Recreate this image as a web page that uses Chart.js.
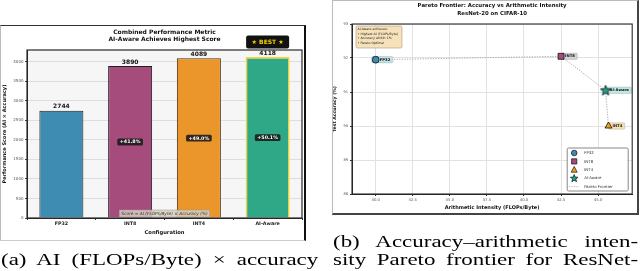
<!DOCTYPE html>
<html>
<head>
<meta charset="utf-8">
<script src="https://cdn.jsdelivr.net/npm/chart.js@4.4.1/dist/chart.umd.min.js"></script>
<style>
body { margin: 0; width: 640px; height: 271px; overflow: hidden; background: #fff; position: relative; }
canvas { position: absolute; }
#chartA { left: 0; top: 25px; }
#chartB { left: 332px; top: 0; }
.frame { position: absolute; pointer-events: none; box-sizing: border-box; }
#frameA { left: 0; top: 25px; width: 306px; height: 216px; border-top: 1px solid #333; border-right: 2px solid #111; border-left: 1px solid #bbb; border-bottom: 1px solid #ccc; }
#frameB { left: 332px; top: 0; width: 307px; height: 215px; border: 1px solid #bbb; border-right: 2px solid #444; border-bottom: 2px solid #444; }
/* the captions in the picture are stretched sideways */
.cap { position: absolute; font-family: "Liberation Serif", serif; font-size: 17px; line-height: 19px; white-space: nowrap; text-align: justify; text-align-last: justify; color: #000; transform: scaleX(1.35); transform-origin: 0 0; }
#capA { left: 1px; top: 250px; width: 235px; }
#capB1 { left: 333px; top: 232px; width: 226px; }
#capB2 { left: 333px; top: 250px; width: 226px; }
</style>
</head>
<body>
<canvas id="chartA" width="306" height="216"></canvas>
<canvas id="chartB" width="306" height="214"></canvas>
<div class="frame" id="frameA"></div>
<div class="frame" id="frameB"></div>
<div class="cap" id="capA">(a) AI (FLOPs/Byte) × accuracy</div>
<div class="cap" id="capB1">(b) Accuracy–arithmetic inten-</div>
<div class="cap" id="capB2">sity Pareto frontier for ResNet-</div>

<script>
// Left chart data
const configs = ['FP32', 'INT8', 'INT4', 'AI-Aware'];
const scores = [2744, 3890, 4089, 4118];
const gainLabels = ['', '+41.8%', '+49.0%', '+50.1%'];
const scoreTicks = [0, 500, 1000, 1500, 2000, 2500, 3000, 3500, 4000];

// Right chart data
const arithIntensity = [30.0, 42.5, 45.7, 45.5];
const testAccuracy = [91.95, 92.05, 90.0, 91.05];
const paretoOrder = ['FP32', 'INT8', 'AI-Aware', 'INT4'];
const intensityTicks = [30.0, 32.5, 35.0, 37.5, 40.0, 42.5, 45.0];
const accuracyTicks = [88, 89, 90, 91, 92, 93];
const infoLines = ['AI-Aware achieves:', '• Highest AI (FLOPs/Byte)', '• Accuracy within 1%', '• Pareto Optimal'];

const FONT = '"DejaVu Sans", sans-serif';
const barColors = ['#3f8cb3', '#a64c7c', '#ea962b', '#2fa887'];
const barBorders = ['#1e1e1e', '#1e1e1e', '#4a3210', '#f3d23a'];
const pointColors = ['#3f8cb3', '#a64c7c', '#f0a020', '#1f9e8a'];
const labelBoxes = ['#bfe3e6', '#d3d3d3', '#f5deb3', '#bfe8e2'];

function roundBox(ctx, x, y, w, h, r) {
    ctx.beginPath();
    ctx.moveTo(x + r, y);
    ctx.arcTo(x + w, y, x + w, y + h, r);
    ctx.arcTo(x + w, y + h, x, y + h, r);
    ctx.arcTo(x, y + h, x, y, r);
    ctx.arcTo(x, y, x + w, y, r);
    ctx.closePath();
}

function starPath(ctx, cx, cy, outer, inner) {
    ctx.beginPath();
    for (let k = 0; k < 10; k++) {
        const r = k % 2 === 0 ? outer : inner;
        const a = -Math.PI / 2 + k * Math.PI / 5;
        const px = cx + r * Math.cos(a), py = cy + r * Math.sin(a);
        if (k === 0) ctx.moveTo(px, py); else ctx.lineTo(px, py);
    }
    ctx.closePath();
}

// star marker as a small canvas
function makeStar(color) {
    const c = document.createElement('canvas');
    c.width = 12; c.height = 12;
    const g = c.getContext('2d');
    starPath(g, 6, 6.4, 5.4, 2.3);
    g.fillStyle = color; g.fill();
    g.lineWidth = 0.8; g.strokeStyle = '#111'; g.stroke();
    return c;
}
const starImg = makeStar(pointColors[3]);

// ---------- Chart A: bars ----------
const barExtras = {
    id: 'barExtras',
    beforeDraw(chart) {
        const { ctx, chartArea: a } = chart;
        ctx.save();
        ctx.fillStyle = '#f6f6f6';
        ctx.fillRect(a.left, a.top, a.right - a.left, a.bottom - a.top);
        ctx.restore();
    },
    afterDatasetsDraw(chart) {
        const { ctx, chartArea: a, scales } = chart;
        const meta = chart.getDatasetMeta(0);
        ctx.save();
        meta.data.forEach((bar, i) => {
            ctx.fillStyle = '#111';
            ctx.font = 'bold 6px ' + FONT;
            ctx.textAlign = 'center';
            ctx.textBaseline = 'bottom';
            ctx.fillText(String(scores[i]), bar.x, bar.y - 1);
            if (gainLabels[i]) {
                const ym = scales.y.getPixelForValue(scores[i] / 2);
                ctx.font = 'bold 4.8px ' + FONT;
                const w = ctx.measureText(gainLabels[i]).width + 5;
                ctx.fillStyle = 'rgba(25,25,25,0.88)';
                roundBox(ctx, bar.x - w / 2, ym - 3.4, w, 6.8, 1.5);
                ctx.fill();
                ctx.fillStyle = '#fff';
                ctx.textBaseline = 'middle';
                ctx.fillText(gainLabels[i], bar.x, ym + 0.2);
            }
        });
        // BEST badge over the top bar
        const best = meta.data[3];
        ctx.fillStyle = '#111';
        roundBox(ctx, best.x - 21.5, best.y - 21.5, 43, 13, 2);
        ctx.fill();
        ctx.fillStyle = '#f5d000';
        ctx.font = 'bold 6px ' + FONT;
        ctx.textAlign = 'center';
        ctx.textBaseline = 'middle';
        ctx.fillText('★ BEST ★', best.x, best.y - 14.8);
        // formula box
        const cx = (a.left + a.right) / 2;
        ctx.font = 'italic 4.3px ' + FONT;
        const ft = 'Score = AI (FLOPs/Byte) × Accuracy (%)';
        const fw = ctx.measureText(ft).width + 4;
        ctx.fillStyle = 'rgba(214,206,190,0.85)';
        ctx.fillRect(cx - fw / 2, a.bottom - 8, fw, 7);
        ctx.strokeStyle = '#999'; ctx.lineWidth = 0.5;
        ctx.strokeRect(cx - fw / 2, a.bottom - 8, fw, 7);
        ctx.fillStyle = '#333';
        ctx.fillText(ft, cx, a.bottom - 4.4);
        // frame
        ctx.strokeStyle = '#2a2a2a'; ctx.lineWidth = 1.2;
        ctx.strokeRect(a.left, a.top, a.right - a.left, a.bottom - a.top);
        ctx.restore();
    },
    afterDraw(chart) {
        const { ctx, chartArea: a } = chart;
        const cx = (a.left + a.right) / 2;
        ctx.save();
        ctx.fillStyle = '#111';
        ctx.font = 'bold 6px ' + FONT;
        ctx.textAlign = 'center';
        ctx.textBaseline = 'middle';
        ctx.fillText('Combined Performance Metric', cx, 7);
        ctx.fillText('AI-Aware Achieves Highest Score', cx, 14.2);
        ctx.restore();
    }
};

new Chart(document.getElementById('chartA'), {
    type: 'bar',
    data: {
        labels: configs,
        datasets: [{
            data: scores,
            backgroundColor: barColors,
            borderColor: barBorders,
            borderWidth: [1, 1, 1, 1.6],
            barPercentage: 0.64,
            categoryPercentage: 1
        }]
    },
    options: {
        responsive: false,
        animation: false,
        layout: { padding: { left: 0, top: 25, right: 4, bottom: 0 } },
        plugins: { legend: { display: false }, tooltip: { enabled: false } },
        scales: {
            x: {
                grid: { color: 'rgba(0,0,0,0)', tickColor: '#333', tickLength: 2 },
                border: { color: '#222', width: 1 },
                ticks: { color: '#222', font: { family: FONT, size: 4.8, weight: 'bold' }, padding: 1 },
                title: { display: true, text: 'Configuration', color: '#111',
                         font: { family: FONT, size: 5.2, weight: 'bold' }, padding: { top: 0, bottom: 5 } },
                afterFit(s) { s.height = 23; }
            },
            y: {
                min: 0, max: 4300,
                afterBuildTicks(s) { s.ticks = scoreTicks.map(v => ({ value: v })); },
                grid: { color: '#dedede', tickColor: '#444', tickLength: 2 },
                border: { color: '#222', width: 1 },
                ticks: { color: '#555', font: { family: FONT, size: 4 }, padding: 1.5,
                         callback: v => String(v) },
                title: { display: true, text: 'Performance Score (AI × Accuracy)', color: '#111',
                         font: { family: FONT, size: 5, weight: 'bold' }, padding: { top: 2, bottom: 0 } },
                afterFit(s) { s.width = 27; }
            }
        }
    },
    plugins: [barExtras]
});

// ---------- Chart B: Pareto scatter ----------
const pointStyles = ['circle', 'rect', 'triangle', starImg];
const pointRadii = [3.4, 4.2, 4, 5];
const paretoData = paretoOrder.map(name => {
    const i = configs.indexOf(name);
    return { x: arithIntensity[i], y: testAccuracy[i] };
});
const scatterSets = configs.map((c, i) => ({
    type: 'scatter',
    label: c,
    data: [{ x: arithIntensity[i], y: testAccuracy[i] }],
    pointStyle: pointStyles[i],
    pointRadius: pointRadii[i],
    backgroundColor: pointColors[i],
    borderColor: '#111',
    borderWidth: 0.8
}));
const lineIndex = scatterSets.length;

function drawMarker(ctx, i, x, y) {
    ctx.save();
    ctx.fillStyle = pointColors[i];
    ctx.strokeStyle = '#111';
    ctx.lineWidth = 0.7;
    if (i === 0) { ctx.beginPath(); ctx.arc(x, y, 2.8, 0, Math.PI * 2); }
    else if (i === 1) { ctx.beginPath(); ctx.rect(x - 2.6, y - 2.6, 5.2, 5.2); }
    else if (i === 2) { ctx.beginPath(); ctx.moveTo(x, y - 3.3); ctx.lineTo(x + 3, y + 2.4); ctx.lineTo(x - 3, y + 2.4); ctx.closePath(); }
    else { starPath(ctx, x, y + 0.3, 4, 1.7); }
    ctx.fill(); ctx.stroke();
    ctx.restore();
}

const paretoExtras = {
    id: 'paretoExtras',
    afterDatasetDraw(chart, args) {
        if (args.index !== lineIndex) return;
        // point labels, under the markers
        const { ctx, scales } = chart;
        ctx.save();
        ctx.font = 'bold 3.8px ' + FONT;
        ctx.textBaseline = 'middle';
        ctx.textAlign = 'left';
        configs.forEach((c, i) => {
            const px = scales.x.getPixelForValue(arithIntensity[i]);
            const py = scales.y.getPixelForValue(testAccuracy[i]);
            const tw = ctx.measureText(c).width;
            const x0 = px - (i === 0 ? 4 : 0);
            ctx.fillStyle = labelBoxes[i];
            ctx.strokeStyle = 'rgba(120,120,120,0.6)';
            ctx.lineWidth = 0.4;
            roundBox(ctx, x0, py - 3.2, px + 4 + tw + 2.5 - x0, 6.4, 1.2);
            ctx.fill(); ctx.stroke();
            ctx.fillStyle = '#111';
            ctx.fillText(c, px + 4, py + 0.1);
        });
        ctx.restore();
    },
    afterDraw(chart) {
        const { ctx, chartArea: a } = chart;
        ctx.save();
        // frame
        ctx.strokeStyle = '#2a2a2a'; ctx.lineWidth = 1.1;
        ctx.strokeRect(a.left, a.top, a.right - a.left, a.bottom - a.top);
        // titles
        const cx = (a.left + a.right) / 2;
        ctx.fillStyle = '#111';
        ctx.font = 'bold 5.4px ' + FONT;
        ctx.textAlign = 'center';
        ctx.textBaseline = 'middle';
        ctx.fillText('Pareto Frontier: Accuracy vs Arithmetic Intensity', cx, 6);
        ctx.fillText('ResNet-20 on CIFAR-10', cx, 13.5);
        // info box top-left
        ctx.font = '3.2px ' + FONT;
        ctx.textAlign = 'left';
        const bx = a.left + 4, by = a.top + 2;
        ctx.fillStyle = 'rgba(245,222,179,0.9)';
        ctx.strokeStyle = '#9a8a6a'; ctx.lineWidth = 0.5;
        roundBox(ctx, bx, by, 46, 22, 1.5);
        ctx.fill(); ctx.stroke();
        ctx.fillStyle = '#222';
        infoLines.forEach((t, k) => ctx.fillText(t, bx + 1.5, by + 3.2 + k * 4.7));
        // legend bottom-right
        const lw = 61, lh = 43;
        const lx = a.right - 4 - lw, ly = a.bottom - 3 - lh;
        ctx.fillStyle = 'rgba(255,255,255,0.92)';
        ctx.strokeStyle = '#555'; ctx.lineWidth = 0.7;
        roundBox(ctx, lx, ly, lw, lh, 1.5);
        ctx.fill(); ctx.stroke();
        ctx.font = '3.9px ' + FONT;
        const names = ['FP32', 'INT8', 'INT4', 'AI-Aware', 'Pareto Frontier'];
        names.forEach((t, k) => {
            const ry = ly + 5 + k * 8.4;
            if (k < 4) drawMarker(ctx, k, lx + 7, ry);
            else {
                ctx.strokeStyle = '#999'; ctx.lineWidth = 0.7; ctx.setLineDash([1.2, 1.2]);
                ctx.beginPath(); ctx.moveTo(lx + 2, ry); ctx.lineTo(lx + 12, ry); ctx.stroke();
                ctx.setLineDash([]);
            }
            ctx.fillStyle = '#333';
            ctx.fillText(t, lx + 17, ry + 0.2);
        });
        ctx.restore();
    }
};

new Chart(document.getElementById('chartB'), {
    type: 'scatter',
    data: {
        datasets: scatterSets.concat([{
            type: 'line',
            label: 'Pareto Frontier',
            data: paretoData,
            borderColor: '#9a9a9a',
            borderWidth: 0.8,
            borderDash: [1.3, 1.3],
            pointRadius: 0,
            fill: false,
            tension: 0
        }])
    },
    options: {
        responsive: false,
        animation: false,
        layout: { padding: { left: 0, top: 24, right: 3, bottom: 0 } },
        plugins: { legend: { display: false }, tooltip: { enabled: false } },
        scales: {
            x: {
                type: 'linear', min: 28.4, max: 47.3,
                afterBuildTicks(s) { s.ticks = intensityTicks.map(v => ({ value: v })); },
                grid: { color: '#e2e2e2', tickColor: '#333', tickLength: 2 },
                border: { color: '#222', width: 1 },
                ticks: { color: '#555', font: { family: FONT, size: 3.8 }, padding: 1.5,
                         callback: v => Number(v).toFixed(1) },
                title: { display: true, text: 'Arithmetic Intensity (FLOPs/Byte)', color: '#111',
                         font: { family: FONT, size: 5, weight: 'bold' }, padding: { top: 0, bottom: 3.2 } },
                afterFit(s) { s.height = 20; }
            },
            y: {
                type: 'linear', min: 88, max: 93,
                afterBuildTicks(s) { s.ticks = accuracyTicks.map(v => ({ value: v })); },
                grid: { color: '#e2e2e2', tickColor: '#333', tickLength: 2 },
                border: { color: '#222', width: 1 },
                ticks: { color: '#555', font: { family: FONT, size: 3.6 }, padding: 2,
                         callback: v => String(Math.round(v)) },
                title: { display: true, text: 'Test Accuracy (%)', color: '#111',
                         font: { family: FONT, size: 4.6, weight: 'bold' }, padding: { top: 0, bottom: 0 } },
                afterFit(s) { s.width = 20; }
            }
        }
    },
    plugins: [paretoExtras]
});
</script>
</body>
</html>
